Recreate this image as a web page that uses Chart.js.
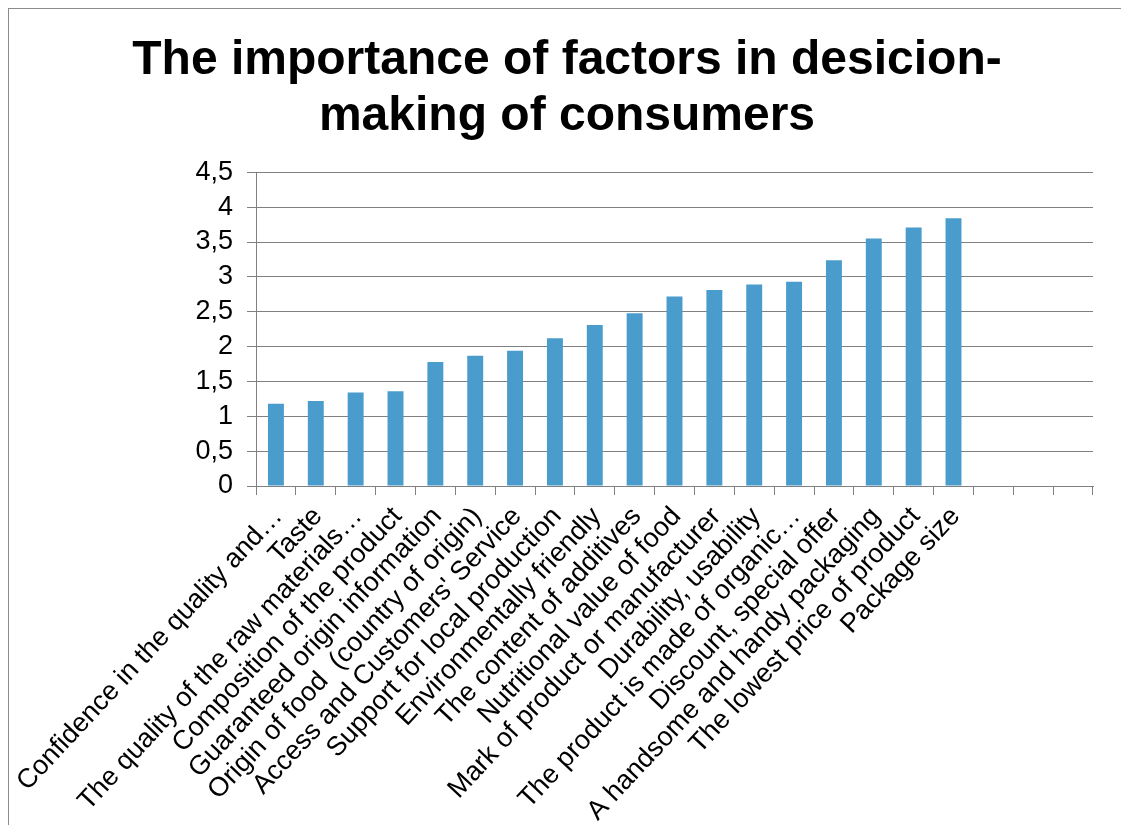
<!DOCTYPE html>
<html>
<head>
<meta charset="utf-8">
<script src="https://cdn.jsdelivr.net/npm/chart.js@4"></script>
<style>
  html, body { margin: 0; padding: 0; background: #fff; overflow: hidden; }
  .frame {
    position: absolute; left: 8px; top: 8px;
    width: 1116px; height: 820px;
    border-left: 1px solid #8c8c8c; border-top: 1px solid #8c8c8c;
  }
  canvas { display: block; }
</style>
</head>
<body>
<div class="frame"><canvas id="chart" width="1116" height="820"></canvas></div>
<script>
// factors, sorted by mean score (3 empty slots at the end, like the original sheet)
const categories = [
  'Confidence in the quality and…',
  'Taste',
  'The quality of the raw materials…',
  'Composition of the product',
  'Guaranteed origin information',
  'Origin of food  (country of origin)',
  "Access and Customers' Service",
  'Support for local production',
  'Environmentally friendly',
  'The content of additives',
  'Nutritional value of food',
  'Mark of product or manufacturer',
  'Durability, usability',
  'The product is made of organic…',
  'Discount, special offer',
  'A handsome and handy packaging',
  'The lowest price of product',
  'Package size',
  '', '', ''
];

const scores = [
  1.18, 1.22, 1.34, 1.36, 1.78, 1.87, 1.94, 2.12, 2.31,
  2.48, 2.72, 2.81, 2.89, 2.93, 3.24, 3.55, 3.71, 3.84,
  null, null, null
];

const yTicks = [0, 0.5, 1, 1.5, 2, 2.5, 3, 3.5, 4, 4.5];

const titleLines = ['The importance of factors in desicion-', 'making of consumers'];

const FONT = "'Liberation Sans', Arial, sans-serif";
const GRID = '#808080';

const ctx = document.getElementById('chart');
new Chart(ctx, {
  type: 'bar',
  data: {
    labels: categories,
    datasets: [{
      data: scores,
      backgroundColor: '#4A9CCC',
      borderWidth: 0,
      barPercentage: 0.4,
      categoryPercentage: 1.0
    }]
  },
  options: {
    responsive: false,
    animation: false,
    layout: { padding: 0 },
    plugins: {
      legend: { display: false },
      tooltip: { enabled: false },
      title: {
        display: true,
        text: titleLines,
        color: '#000',
        font: { family: FONT, size: 48, weight: 'bold', lineHeight: 1.17 },
        padding: { top: 24, bottom: 27 }
      }
    },
    scales: {
      x: {
        grid: {
          offset: true,
          drawOnChartArea: false,
          drawTicks: true,
          tickLength: 9,
          color: GRID,
          lineWidth: 1
        },
        border: { color: GRID, width: 1 },
        ticks: {
          autoSkip: false,
          minRotation: 47,
          maxRotation: 47,
          padding: 6,
          labelOffset: 2,
          color: '#000',
          font: { family: FONT, size: 27 }
        },
        afterFit(scale) {
          // keep the plot edges where the original has them
          scale.paddingLeft = 0;
          scale.paddingRight = 32;
          scale.height = 343;
        }
      },
      y: {
        min: 0,
        max: 4.5,
        afterBuildTicks(scale) {
          scale.ticks = yTicks.map(v => ({ value: v }));
        },
        grid: {
          color: GRID,
          lineWidth: 1,
          tickLength: 9
        },
        border: { color: GRID, width: 1 },
        ticks: {
          autoSkip: false,
          padding: 14,
          color: '#000',
          font: { family: FONT, size: 27 },
          callback: v => String(v).replace('.', ',')
        },
        afterFit(scale) {
          scale.width = 247;
        }
      }
    }
  }
});
</script>
</body>
</html>
